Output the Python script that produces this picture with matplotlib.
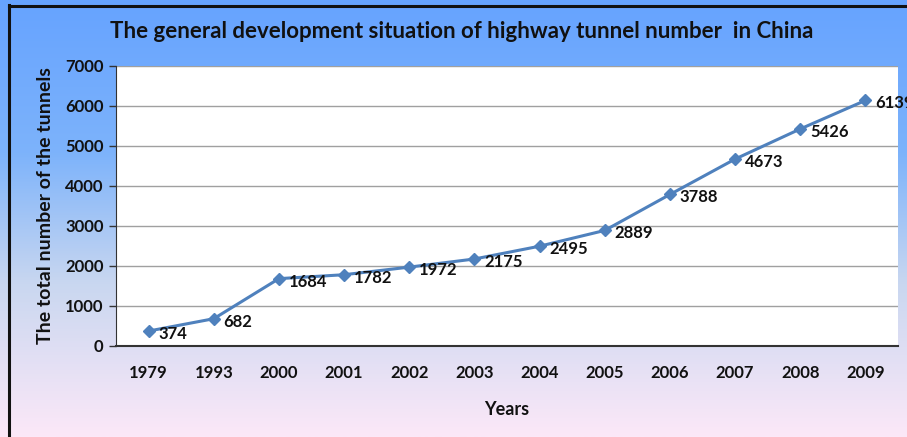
import numpy as np
import matplotlib
matplotlib.use("Agg")
import matplotlib.pyplot as plt
from matplotlib.colors import LinearSegmentedColormap
from matplotlib.lines import Line2D

years = ["1979", "1993", "2000", "2001", "2002", "2003", "2004", "2005", "2006", "2007", "2008", "2009"]
tunnels = [374, 682, 1684, 1782, 1972, 2175, 2495, 2889, 3788, 4673, 5426, 6139]
yticks = [0, 1000, 2000, 3000, 4000, 5000, 6000, 7000]

plt.rcParams['font.family'] = ['Lato', 'DejaVu Sans']

W, H = 907, 437
fig = plt.figure(figsize=(W / 100, H / 100), dpi=100)

# gradient background
bg = fig.add_axes([0, 0, 1, 1], zorder=-10)
cmap = LinearSegmentedColormap.from_list(
    "bg", [(0.0, "#66a3ff"), (0.35, "#7db3fb"), (0.65, "#c9d7f0"), (1.0, "#fce8f8")])
grad = np.linspace(0, 1, 256).reshape(-1, 1)
bg.imshow(grad, aspect='auto', cmap=cmap, extent=[0, 1, 0, 1], origin='upper')
bg.set_axis_off()

# border lines
fig.add_artist(Line2D([8.5 / W, 8.5 / W], [0, 1 - 5 / H], color='#111111', lw=2.2, transform=fig.transFigure))
fig.add_artist(Line2D([8.5 / W, 1], [1 - 5.5 / H, 1 - 5.5 / H], color='#111111', lw=2.2, transform=fig.transFigure))

ax = fig.add_axes([116 / W, 1 - 346 / H, (898 - 116) / W, (346 - 66) / H])
ax.set_facecolor('white')
x = np.arange(len(years))
ax.plot(x, tunnels, color='#4f81bd', lw=2.2, marker='D', markersize=6.5, zorder=3)
for xi, v in zip(x, tunnels):
    ax.annotate(str(v), (xi, v), xytext=(10, -3), textcoords='offset pixels',
                ha='left', va='center', fontsize=12, fontweight='bold', color='#111111',
                annotation_clip=False, zorder=4)

ax.set_xlim(-0.5, len(years) - 0.5)
ax.set_ylim(0, 7000)
ax.set_yticks(yticks)
ax.set_yticklabels([str(t) for t in yticks], fontsize=12, fontweight='bold', color='#111111')
ax.set_xticks(x)
ax.set_xticklabels(years, fontsize=12, fontweight='bold', color='#111111')
ax.tick_params(axis='x', length=0, pad=14)
ax.tick_params(axis='y', length=5, width=1, color='#333333', pad=4)
ax.grid(axis='y', color='#a0a0a0', lw=1)
ax.set_axisbelow(True)
for s in ['top', 'right']:
    ax.spines[s].set_visible(False)
ax.spines['left'].set_color('#333333')
ax.spines['bottom'].set_color('#333333')
ax.spines['bottom'].set_linewidth(1.5)

ax.set_xlabel("Years", fontsize=13, fontweight='bold', color='#111111', labelpad=14)
ax.set_ylabel("The total number of the tunnels", fontsize=14, fontweight='bold', color='#111111', labelpad=8)

fig.text(462 / W, 1 - 32 / H, "The general development situation of highway tunnel number  in China",
         ha='center', va='center', fontsize=16, fontweight='bold', color='#111111')

fig.savefig("out.png", dpi=100)
